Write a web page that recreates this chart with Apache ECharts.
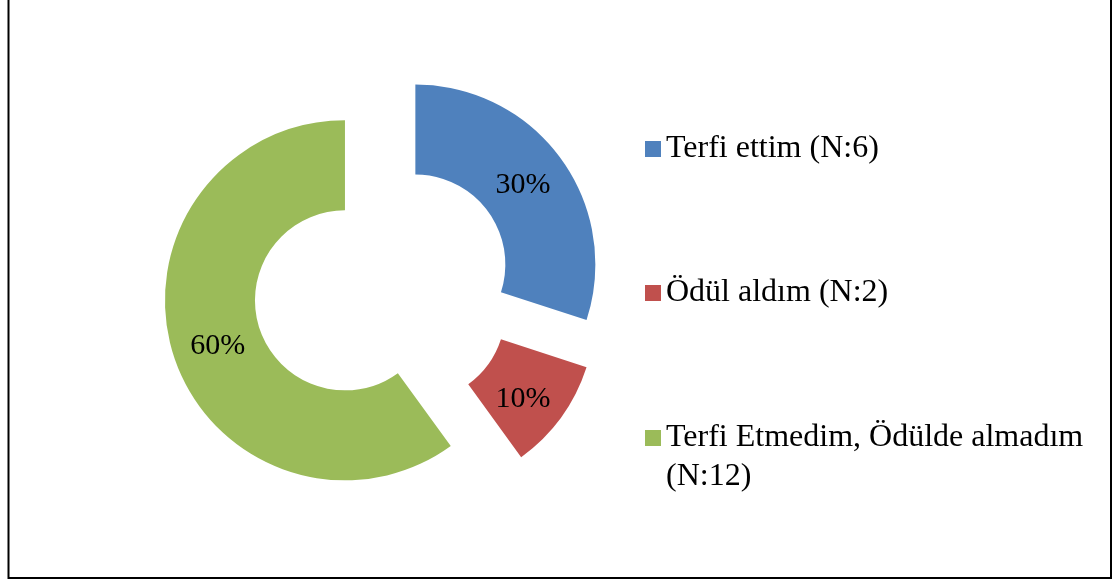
<!DOCTYPE html>
<html><head><meta charset="utf-8">
<script src="https://cdn.jsdelivr.net/npm/echarts@6/dist/echarts.min.js"></script>
<style>html,body{margin:0;padding:0;background:#fff}#c{width:1117px;height:581px}</style>
</head><body><div id="c"></div>
<script>
const categories = ['Terfi ettim (N:6)', 'Ödül aldım (N:2)', 'Terfi Etmedim, Ödülde almadım (N:12)'];
const counts = [6, 2, 12];
const colors = ['#4F81BD', '#C0504D', '#9BBB59'];
const labelShift = [[-4, 2], [-4, 6], [4, 3]];

const FONT = '"Liberation Serif", "Times New Roman", serif';
const chart = echarts.init(document.getElementById('c'), null, {renderer: 'canvas'});

function legendAt(idx, top, extraLine) {
  return {
    data: [categories[idx]],
    orient: 'vertical',
    left: 645,
    top: top,
    padding: 0,
    itemWidth: 16,
    itemHeight: 16,
    icon: 'rect',
    selectedMode: false,
    formatter: extraLine ? (n => '\n' + n.replace(' (N', '\n(N')) : '{name}',
    textStyle: {
      fontFamily: FONT, fontSize: 32, color: '#000', lineHeight: 39
    }
  };
}

chart.setOption({
  animation: false,
  backgroundColor: '#fff',
  color: colors,
  legend: [
    legendAt(0, 129.5, false),
    legendAt(1, 273.5, false),
    legendAt(2, 379.5, true)
  ],
  graphic: [{
    type: 'rect', silent: true, z: 100,
    shape: {x: 8.5, y: -5, width: 1102.5, height: 583},
    style: {fill: 'none', stroke: '#000', lineWidth: 2}
  }],
  series: [{
    type: 'pie',
    center: [383, 288],
    radius: [90, 180],
    startAngle: 90,
    clockwise: true,
    selectedMode: 'multiple',
    selectedOffset: 40,
    avoidLabelOverlap: false,
    label: {
      show: true, position: 'inside', formatter: '{d}%',
      fontFamily: FONT, fontSize: 30, color: '#000'
    },
    labelLayout: function (p) {
      const s = labelShift[p.dataIndex] || [0, 0];
      return {dx: s[0], dy: s[1]};
    },
    labelLine: {show: false},
    emphasis: {disabled: true},
    select: {itemStyle: {borderWidth: 0}, label: {color: '#000'}},
    data: categories.map((n, i) => ({
      name: n, value: counts[i], selected: true,
      itemStyle: {color: colors[i]}
    }))
  }]
});
</script></body></html>
